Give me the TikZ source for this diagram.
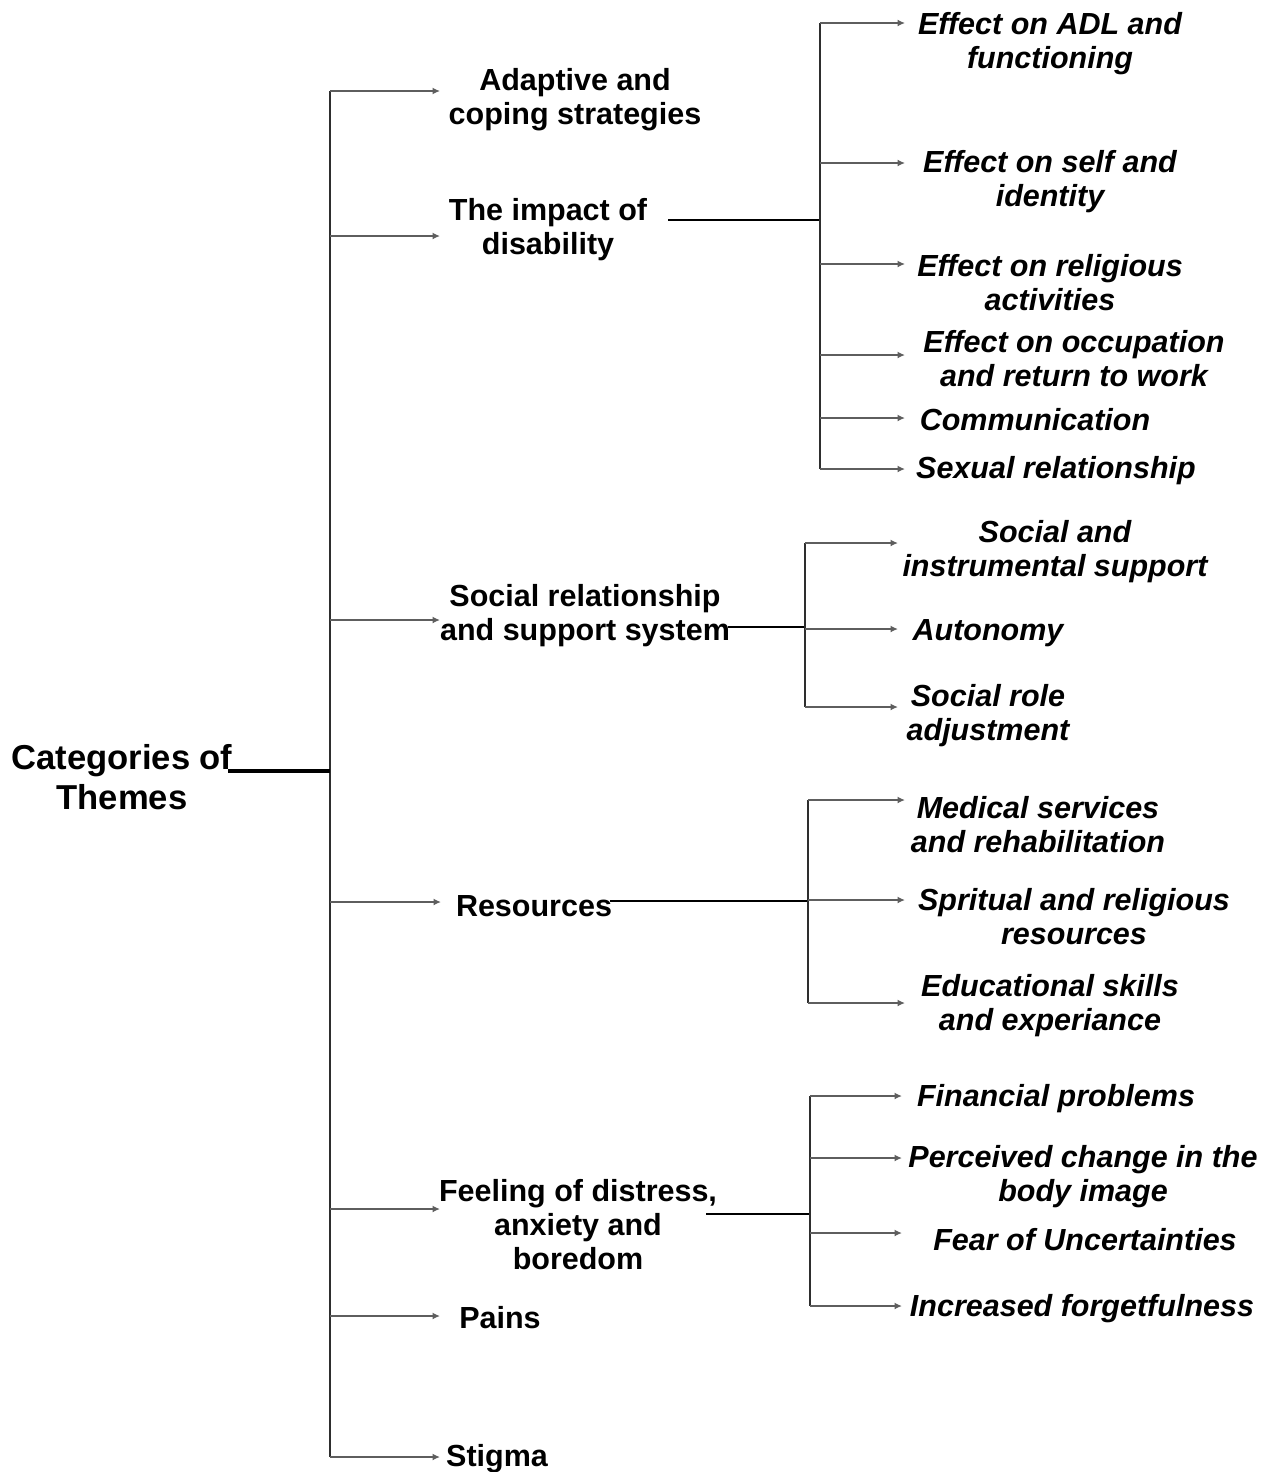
\documentclass[tikz,border=0pt]{standalone}
\usepackage{fontspec}
\setmainfont{Liberation Sans}
\usetikzlibrary{arrows.meta}
\definecolor{armgray}{HTML}{5E5E5E}
\definecolor{bargray}{HTML}{2E2E2E}
\begin{document}
\begin{tikzpicture}[x=1pt,y=-1pt,
  rootlbl/.style={font=\bfseries\fontsize{34.6}{40}\selectfont, align=center, inner sep=0pt},
  catlbl/.style={font=\bfseries\fontsize{30.5}{34}\selectfont, align=center, inner sep=0pt},
  sublbl/.style={font=\bfseries\itshape\fontsize{30.5}{34}\selectfont, align=center, inner sep=0pt},
  arm/.style={draw=armgray, line width=1.7pt, -{Latex[length=7.5pt,width=7pt]}},
  bar/.style={draw=bargray, line width=2.3pt},
  link/.style={draw=black, line width=2pt},
  rootlink/.style={draw=black, line width=3.6pt}]
\useasboundingbox (0,0) rectangle (1265,1472);

% root and trunk
\node[rootlbl] (root) at (122,777) {Categories of\\Themes};
\coordinate (rootend) at (228,771);
\coordinate (trunkmid) at (330,771);
\coordinate (trunktop) at (330,91);
\coordinate (trunkbot) at (330,1457);
\draw[bar] (trunktop) -- (trunkbot);
\draw[rootlink] (rootend) -- (trunkmid);

% main categories
\node[catlbl] (adapt) at (575,100) {Adaptive and\\coping strategies};
\node[catlbl] (impact) at (548,230) {The impact of\\disability};
\node[catlbl] (social) at (585,616) {Social relationship\\and support system};
\node[catlbl] (res) at (534,906) {Resources};
\node[catlbl] (feel) at (578,1225) {Feeling of distress,\\anxiety and\\boredom};
\node[catlbl] (pains) at (500,1318) {Pains};
\node[catlbl] (stigma) at (497,1459) {Stigma};

\coordinate (tA) at (330,91);   \coordinate (eA) at (440,91);
\coordinate (tB) at (330,236);  \coordinate (eB) at (440,236);
\coordinate (tC) at (330,620);  \coordinate (eC) at (440,620);
\coordinate (tD) at (330,902);  \coordinate (eD) at (441,902);
\coordinate (tE) at (330,1209); \coordinate (eE) at (440,1209);
\coordinate (tF) at (330,1316); \coordinate (eF) at (440,1316);
\coordinate (tG) at (330,1457); \coordinate (eG) at (440,1457);
\foreach \k in {A,B,C,D,E,F,G} \draw[arm] (t\k) -- (e\k);

% impact of disability
\coordinate (bStart) at (668,220); \coordinate (bJoin) at (820,220);
\coordinate (bTop) at (820,23);    \coordinate (bBot) at (820,469);
\draw[link] (bStart) -- (bJoin);
\draw[bar] (bTop) -- (bBot);
\node[sublbl] (adl) at (1050,44) {Effect on ADL and\\functioning};
\node[sublbl] (self) at (1050,182) {Effect on self and\\identity};
\node[sublbl] (relig) at (1050,283) {Effect on religious\\activities};
\node[sublbl] (occup) at (1074,359) {Effect on occupation\\and return to work};
\node[sublbl] (comm) at (1035,420) {Communication};
\node[sublbl] (sex) at (1056,471) {Sexual relationship};
\foreach \y/\n in {23/1,163/2,264/3,355/4,418/5,469/6}{
  \coordinate (bj\n) at (820,\y); \coordinate (be\n) at (905,\y);
  \draw[arm] (bj\n) -- (be\n);
}

% social relationship
\coordinate (cStart) at (728,627); \coordinate (cJoin) at (805,627);
\coordinate (cTop) at (805,543);   \coordinate (cBot) at (805,707);
\draw[link] (cStart) -- (cJoin);
\draw[bar] (cTop) -- (cBot);
\node[sublbl] (instr) at (1055,552) {Social and\\instrumental support};
\node[sublbl] (auto) at (988,633) {Autonomy};
\node[sublbl] (role) at (988,716) {Social role\\adjustment};
\foreach \y/\n in {543/1,629/2,707/3}{
  \coordinate (cj\n) at (805,\y); \coordinate (ce\n) at (898,\y);
  \draw[arm] (cj\n) -- (ce\n);
}

% resources
\coordinate (dStart) at (610,901); \coordinate (dJoin) at (808,901);
\coordinate (dTop) at (808,800);   \coordinate (dBot) at (808,1003);
\draw[link, line width=1.6pt] (dStart) -- (dJoin);
\draw[bar] (dTop) -- (dBot);
\node[sublbl] (med) at (1038,825) {Medical services\\and rehabilitation};
\node[sublbl] (spir) at (1074,917) {Spritual and religious\\resources};
\node[sublbl] (edu) at (1050,1006) {Educational skills\\and experiance};
\foreach \y/\n in {800/1,900/2,1003/3}{
  \coordinate (dj\n) at (808,\y); \coordinate (de\n) at (905,\y);
  \draw[arm] (dj\n) -- (de\n);
}

% distress, anxiety and boredom
\coordinate (eStart) at (706,1214); \coordinate (eJoin) at (810,1214);
\coordinate (eTop) at (810,1096);   \coordinate (eBot) at (810,1306);
\draw[link] (eStart) -- (eJoin);
\draw[bar] (eTop) -- (eBot);
\node[sublbl] (fin) at (1056,1099) {Financial problems};
\node[sublbl] (body) at (1083,1177) {Perceived change in the\\body image};
\node[sublbl] (fear) at (1085,1240) {Fear of Uncertainties};
\node[sublbl] (forg) at (1082,1309) {Increased forgetfulness};
\foreach \y/\n in {1096/1,1158/2,1233/3,1306/4}{
  \coordinate (ej\n) at (810,\y); \coordinate (ee\n) at (902,\y);
  \draw[arm] (ej\n) -- (ee\n);
}
\end{tikzpicture}
\end{document}
